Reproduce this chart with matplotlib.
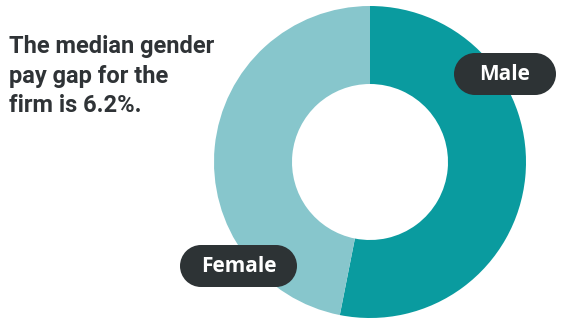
import matplotlib.pyplot as plt
from matplotlib.patches import Rectangle, Circle

labels = ["Male", "Female"]
shares = [53.1, 46.9]
colors = ["#0a9b9f", "#87c6cc"]
title_lines = ["The median gender", "pay gap for the", "firm is 6.2%."]

fig = plt.figure(figsize=(5.67, 3.21), dpi=100)
ax = fig.add_axes([0, 0, 1, 1])

# donut, male slice starts at 12 o'clock and runs clockwise
# (y axis is flipped below, so "counterclock" in data space is clockwise on screen)
ax.pie(shares, colors=colors, startangle=270, counterclock=True,
       center=(370, 162), radius=156,
       wedgeprops=dict(width=78, linewidth=0))
ax.set_xlim(0, 567)
ax.set_ylim(321, 0)
ax.set_aspect("equal")
ax.axis("off")

for i, line in enumerate(title_lines):
    ax.text(9, 53 + i * 29.5, line, fontsize=17, fontweight="bold",
            family="Roboto", color="#2f3336", va="baseline", ha="left")


def tag(x0, y0, w, h, text):
    # pill shape: a rectangle with a half circle at each end
    r = h / 2
    fc = "#2d3335"
    ax.add_patch(Rectangle((x0 + r, y0), w - h, h, facecolor=fc, edgecolor="none"))
    ax.add_patch(Circle((x0 + r, y0 + r), r, facecolor=fc, edgecolor="none"))
    ax.add_patch(Circle((x0 + w - r, y0 + r), r, facecolor=fc, edgecolor="none"))
    ax.text(x0 + w / 2, y0 + r + 1, text, fontsize=15, fontweight="bold",
            family="Open Sans", color="white", ha="center", va="center")


tag(454, 53, 102, 42, labels[0])
tag(180, 245, 117, 42, labels[1])

fig.savefig("out.png", dpi=100)
